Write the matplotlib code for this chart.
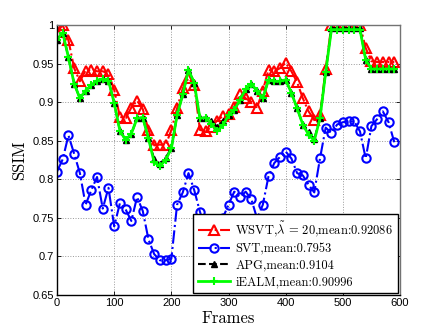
import numpy as np
import matplotlib
matplotlib.use("Agg")
import matplotlib.pyplot as plt

frames = np.arange(0, 600, 10)

wsvt = [0.991, 1.000, 0.980, 0.944, 0.927, 0.941, 0.942, 0.940, 0.940, 0.937,
        0.916, 0.881, 0.879, 0.893, 0.902, 0.891, 0.864, 0.844, 0.845, 0.844,
        0.864, 0.892, 0.918, 0.931, 0.922, 0.864, 0.862, 0.868, 0.876, 0.882,
        0.885, 0.894, 0.910, 0.905, 0.900, 0.893, 0.915, 0.942, 0.940, 0.944,
        0.951, 0.940, 0.926, 0.905, 0.888, 0.877, 0.883, 0.943, 1.000, 1.000,
        1.000, 1.000, 1.000, 1.000, 0.970, 0.953, 0.952, 0.952, 0.952, 0.952]

svt = [0.810, 0.826, 0.857, 0.833, 0.808, 0.767, 0.786, 0.803, 0.762, 0.789,
       0.739, 0.769, 0.761, 0.746, 0.777, 0.759, 0.722, 0.703, 0.695, 0.695,
       0.697, 0.767, 0.783, 0.808, 0.786, 0.758, 0.735, 0.728, 0.738, 0.750,
       0.767, 0.784, 0.777, 0.784, 0.774, 0.749, 0.767, 0.804, 0.821, 0.829,
       0.836, 0.827, 0.808, 0.805, 0.793, 0.783, 0.827, 0.867, 0.860, 0.871,
       0.874, 0.875, 0.875, 0.862, 0.827, 0.869, 0.878, 0.888, 0.874, 0.848]

apg = [0.981, 0.990, 0.958, 0.924, 0.905, 0.915, 0.922, 0.928, 0.930, 0.928,
       0.899, 0.863, 0.851, 0.859, 0.879, 0.880, 0.853, 0.826, 0.820, 0.828,
       0.840, 0.883, 0.910, 0.942, 0.925, 0.879, 0.880, 0.876, 0.868, 0.875,
       0.883, 0.890, 0.903, 0.917, 0.924, 0.914, 0.905, 0.929, 0.927, 0.927,
       0.929, 0.912, 0.892, 0.871, 0.861, 0.852, 0.879, 0.939, 0.996, 0.996,
       0.996, 0.996, 0.996, 0.996, 0.955, 0.943, 0.943, 0.943, 0.943, 0.943]

iealm = [0.981, 0.990, 0.958, 0.924, 0.905, 0.915, 0.922, 0.928, 0.930, 0.928,
         0.899, 0.863, 0.851, 0.859, 0.879, 0.880, 0.853, 0.822, 0.817, 0.825,
         0.840, 0.883, 0.910, 0.942, 0.925, 0.879, 0.880, 0.872, 0.862, 0.870,
         0.883, 0.890, 0.903, 0.917, 0.924, 0.914, 0.905, 0.929, 0.927, 0.927,
         0.929, 0.912, 0.892, 0.871, 0.858, 0.850, 0.879, 0.939, 0.994, 0.994,
         0.994, 0.994, 0.994, 0.994, 0.955, 0.943, 0.943, 0.943, 0.943, 0.943]

labels = [r"WSVT,$\tilde{\lambda}$ = 20,mean:0.92086",
          "SVT,mean:0.7953",
          "APG,mean:0.9104",
          "iEALM,mean:0.90996"]

xticks = [0, 100, 200, 300, 400, 500, 600]
yticks = [0.65, 0.7, 0.75, 0.8, 0.85, 0.9, 0.95, 1.0]
yticklabels = ["0.65", "0.7", "0.75", "0.8", "0.85", "0.9", "0.95", "1"]

plt.rcParams['mathtext.fontset'] = 'cm'

fig = plt.figure(figsize=(4.42, 3.32), dpi=100)
ax = fig.add_axes([0.129, 0.1114, 0.776, 0.8133])

ax.plot(frames, wsvt, linestyle='-.', color='red', lw=1.5, marker='^',
        markersize=7, markerfacecolor='none', markeredgecolor='red', mew=1.5,
        label=labels[0])
ax.plot(frames, svt, linestyle='-.', color='blue', lw=1.5, marker='o',
        markersize=6, markerfacecolor='none', markeredgecolor='blue', mew=1.5,
        label=labels[1])
ax.plot(frames, apg, linestyle='--', color='black', lw=1.5, marker='^',
        markersize=5, markerfacecolor='black', markeredgecolor='black', mew=1.0,
        label=labels[2])
ax.plot(frames, iealm, linestyle='-', color=(0, 1, 0), lw=2.0, marker='+',
        markersize=6, mew=1.5, label=labels[3])

ax.set_xlim(0, 600)
ax.set_ylim(0.65, 1.0)
ax.set_xticks(xticks)
ax.set_yticks(yticks)
ax.set_yticklabels(yticklabels)
for lab in ax.get_xticklabels() + ax.get_yticklabels():
    lab.set_fontfamily('Liberation Sans')
    lab.set_fontsize(8)
ax.tick_params(direction='in', length=3, width=0.6, top=True, right=True, pad=2)
ax.grid(True, linestyle=':', color='0.6', lw=0.7)
for s in ['left', 'bottom']:
    ax.spines[s].set_color('black')
    ax.spines[s].set_linewidth(1.0)
for s in ['top', 'right']:
    ax.spines[s].set_color('0.45')
    ax.spines[s].set_linewidth(1.0)

ax.set_xlabel('Frames', fontfamily='cmr10', fontsize=12, labelpad=2)
ax.set_ylabel('SSIM', fontfamily='cmr10', fontsize=12, labelpad=4)

leg = ax.legend(loc='lower right', bbox_to_anchor=(1.0, 0.0), borderaxespad=0.15,
                prop={'family': 'cmr10', 'size': 9}, handlelength=2.6,
                labelspacing=0.35, borderpad=0.4, handletextpad=0.4,
                fancybox=False, framealpha=1.0, edgecolor='black')
leg.get_frame().set_linewidth(1.0)

fig.savefig('out.png', dpi=100)
